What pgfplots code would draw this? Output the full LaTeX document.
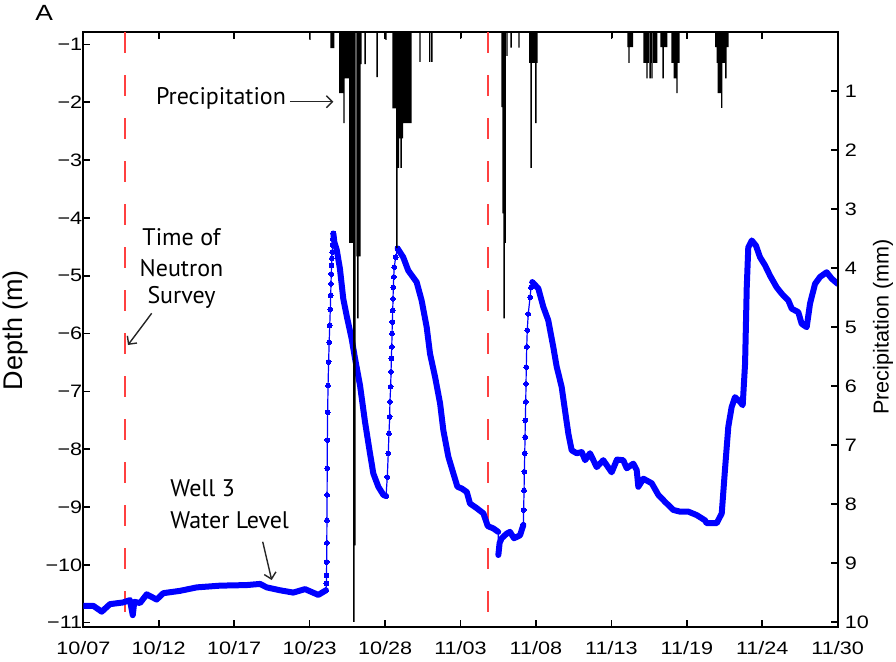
\documentclass[border=0pt]{standalone}
\usepackage{fontspec}
\setmainfont{Liberation Sans}
\newfontfamily\tickfont[FakeStretch=1.2]{Liberation Sans}
\newfontfamily\annfont{PT Sans}
\usepackage{pgfplots}
\pgfplotsset{compat=1.18}
\usetikzlibrary{arrows.meta}
\definecolor{dashred}{RGB}{255,64,64}
\definecolor{wblue}{RGB}{0,0,255}
\begin{document}
\begin{tikzpicture}
\path[use as bounding box] (-41.65pt,-17.15pt) rectangle (406.35pt,313.35pt);
\begin{axis}[
  at={(0pt,0pt)}, anchor=south west,
  scale only axis, width=377.2pt, height=297.2pt,
  xmin=0, xmax=54, ymin=-11.07, ymax=-0.79,
  xtick={0,5.4,10.8,16.2,21.6,27,32.4,37.8,43.2,48.6,54},
  xticklabels={10/07,10/12,10/17,10/23,10/28,11/03,11/08,11/13,11/19,11/24,11/30},
  ytick={-11,-10,-9,-8,-7,-6,-5,-4,-3,-2,-1},
  yticklabels={−11,−10,−9,−8,−7,−6,−5,−4,−3,−2,−1},
  ytick pos=left, xtick pos=both,
  tick align=inside, major tick length=3.5pt,
  axis line style={line width=0.9pt},
  tick style={line width=0.8pt, black},
  ticklabel style={font=\tickfont\fontsize{9}{11}\selectfont},
  xticklabel style={yshift=-4pt},
  yticklabel style={xshift=3pt},
]
\addplot[dashred, line width=1pt, dash pattern=on 10.5pt off 11pt] coordinates {(3,-0.79) (3,-11.07)};
\addplot[dashred, line width=1pt, dash pattern=on 10.5pt off 11pt] coordinates {(29,-0.79) (29,-11.07)};
% thick (dense) parts of the water level
\addplot[wblue, line width=3pt, line join=round, line cap=round] coordinates {
(0,-10.71)(0.72,-10.71)(1.32,-10.81)(1.91,-10.68)(2.86,-10.65)(3.34,-10.61)(3.54,-10.87)(3.65,-10.64)(4.06,-10.66)(4.54,-10.51)(5.25,-10.60)(5.73,-10.49)(6.92,-10.45)(8.12,-10.39)(9.79,-10.36)(11.70,-10.35)(12.65,-10.33)(13.13,-10.39)(14.08,-10.44)(15.03,-10.48)(15.87,-10.42)(16.82,-10.52)(17.37,-10.44)};
\addplot[wblue, line width=3pt, line join=round, line cap=round] coordinates {
(17.90,-4.27)(17.97,-4.42)(18.14,-4.55)(18.37,-4.88)(18.61,-5.40)(18.85,-5.69)(19.21,-6.09)(19.45,-6.43)(19.81,-6.9)(20.16,-7.52)(20.52,-8.07)(20.76,-8.42)(21.12,-8.65)(21.48,-8.79)(21.67,-8.81)};
\addplot[wblue, line width=3pt, line join=round, line cap=round] coordinates {
(22.50,-4.53)(22.90,-4.68)(23.26,-4.91)(23.86,-5.11)(24.22,-5.43)(24.58,-5.89)(24.82,-6.35)(25.18,-6.75)(25.54,-7.21)(25.77,-7.67)(26.13,-8.13)(26.49,-8.42)(26.78,-8.65)(27.09,-8.68)(27.45,-8.74)(27.68,-8.94)(28.16,-9.02)(28.64,-9.11)(28.95,-9.33)(29.35,-9.37)(29.70,-9.43)};
\addplot[wblue, line width=0.6pt] coordinates {(29.70,-9.43)(29.71,-9.83)};
\addplot[wblue, line width=3pt, line join=round, line cap=round] coordinates {
(29.71,-9.83)(29.80,-9.62)(29.95,-9.54)(30.31,-9.46)(30.54,-9.43)(30.83,-9.54)(31.26,-9.49)(31.50,-9.31)};
\addplot[wblue, line width=3pt, line join=round, line cap=round] coordinates {
(32.14,-5.11)(32.57,-5.22)(32.93,-5.54)(33.28,-5.77)(33.64,-6.23)(33.89,-6.58)(34.24,-6.92)(34.48,-7.33)(34.72,-7.73)(34.96,-8.02)(35.32,-8.07)(35.68,-8.05)(35.92,-8.19)(36.27,-8.07)(36.75,-8.31)(37.22,-8.19)(37.82,-8.40)(38.2,-8.18)(38.65,-8.19)(38.90,-8.33)(39.37,-8.25)(39.61,-8.36)(39.73,-8.65)(40.09,-8.51)(40.69,-8.59)(41.16,-8.79)(41.64,-8.91)(42.23,-9.05)(42.71,-9.08)(43.31,-9.08)(43.91,-9.14)(44.50,-9.23)(44.62,-9.28)(45.34,-9.28)(45.70,-9.11)(45.93,-8.36)(46.17,-7.61)(46.41,-7.27)(46.65,-7.10)(47.01,-7.18)(47.20,-7.24)(47.37,-6.52)(47.49,-5.20)(47.60,-4.51)(47.85,-4.39)(48.15,-4.48)(48.44,-4.68)(48.80,-4.82)(49.16,-5.00)(49.63,-5.20)(49.99,-5.31)(50.47,-5.43)(50.71,-5.57)(51.18,-5.63)(51.42,-5.83)(51.78,-5.89)(52.02,-5.48)(52.38,-5.14)(52.74,-5.02)(53.21,-4.94)(53.57,-5.05)(54,-5.14)};
% sparse rises: line with dots
\addplot[wblue, line width=0.6pt, mark=*, mark size=1.2pt, mark options={fill=wblue, draw=wblue, line width=0pt}] coordinates {
(17.37,-10.44)(17.40,-10.32)(17.41,-10.18)(17.42,-9.95)(17.43,-9.62)(17.44,-9.23)(17.45,-8.79)(17.46,-8.33)(17.47,-7.84)(17.49,-7.36)(17.52,-6.90)(17.56,-6.49)(17.60,-6.15)(17.64,-5.86)(17.68,-5.58)(17.71,-5.34)(17.73,-5.14)(17.75,-4.97)(17.77,-4.82)(17.79,-4.70)(17.82,-4.59)(17.84,-4.47)(17.86,-4.36)(17.90,-4.27)};
\addplot[wblue, line width=0.6pt, mark=*, mark size=1.2pt, mark options={fill=wblue, draw=wblue, line width=0pt}] coordinates {
(21.67,-8.81)(21.76,-8.48)(21.83,-8.07)(21.88,-7.73)(21.93,-7.44)(21.95,-7.18)(22.00,-6.92)(22.03,-6.66)(22.05,-6.43)(22.08,-6.23)(22.10,-6.00)(22.12,-5.80)(22.15,-5.60)(22.17,-5.40)(22.19,-5.20)(22.22,-5.02)(22.26,-4.85)(22.36,-4.68)(22.50,-4.53)};
\addplot[wblue, line width=0.6pt, mark=*, mark size=1.2pt, mark options={fill=wblue, draw=wblue, line width=0pt}] coordinates {
(31.50,-9.31)(31.52,-9.05)(31.55,-8.71)(31.57,-8.39)(31.60,-8.07)(31.62,-7.79)(31.64,-7.50)(31.67,-7.18)(31.69,-6.87)(31.71,-6.58)(31.74,-6.23)(31.78,-5.94)(31.85,-5.66)(31.98,-5.37)(32.05,-5.20)(32.14,-5.11)};
\end{axis}
\begin{axis}[
  at={(0pt,0pt)}, anchor=south west,
  scale only axis, width=377.2pt, height=297.2pt,
  xmin=0, xmax=54, ymin=0, ymax=10.08, y dir=reverse,
  axis x line=none, axis y line*=right,
  ytick={1,2,3,4,5,6,7,8,9,10},
  yticklabels={1,2,3,4,5,6,7,8,9,10},
  tick align=inside, major tick length=3.5pt,
  axis line style={line width=0.9pt},
  tick style={line width=0.8pt, black},
  ticklabel style={font=\tickfont\fontsize{9}{11}\selectfont},
]
\addplot[ybar, bar width=0.1, fill=black, draw=none] coordinates {
(16.23,0.13)
(17.73,0.27)(17.83,0.27)(17.93,0.27)
(18.37,1.03)(18.47,1.03)(18.57,1.03)(18.66,1.54)
(18.77,0.78)(18.87,0.78)(18.97,0.78)
(19.07,3.57)(19.17,3.57)(19.27,3.57)
(19.37,10.0)(19.45,8.7)
(19.6,3.8)(19.65,4.85)(19.7,3.8)(19.8,3.8)
(19.88,0.54)(20.17,0.54)(21.03,0.76)(21.67,0.13)
(22.17,1.29)(22.27,1.29)(22.37,1.29)(22.45,3.66)
(22.55,2.3)(22.65,1.8)(22.75,2.3)(22.85,1.8)
(22.95,1.54)(23.05,1.54)(23.15,1.54)(23.25,1.54)(23.35,1.54)(23.45,1.54)
(24.1,0.5)(24.8,0.5)(24.95,0.5)(27.04,0.1)
(29.97,1.27)(30.05,3.07)(30.12,4.85)(30.2,3.57)(30.33,0.4)(30.62,0.26)(31.19,0.26)
(31.97,0.52)(32.05,2.3)(32.07,0.52)(32.17,0.52)(32.27,0.52)(32.37,0.52)(32.4,1.54)(32.47,0.52)
(37.85,0.1)
(39.0,0.25)(39.06,0.52)(39.1,0.25)(39.2,0.25)(39.3,0.25)
(40.14,0.52)(40.24,0.52)(40.35,0.78)(40.44,0.52)(40.57,0.78)(40.64,0.52)(40.71,0.78)(40.84,0.52)(40.94,0.52)(41.04,0.52)
(41.35,0.25)(41.45,0.25)(41.5,0.78)(41.55,0.25)(41.65,0.25)(41.75,0.25)
(42.14,0.52)(42.24,0.52)(42.3,0.78)(42.4,0.78)(42.5,1.03)(42.54,0.52)(42.64,0.52)
(43.2,0.1)
(45.28,0.25)(45.38,0.52)(45.45,1.03)(45.55,1.03)(45.65,1.03)(45.7,1.28)(45.78,0.52)(45.88,0.52)(46.0,0.78)(46.08,0.25)(46.14,0.25)};
\end{axis}
% labels and annotations
\node[rotate=90, font=\fontsize{13.5}{16}\selectfont] at (-33.65pt,148.35pt) {Depth (m)};
\node[rotate=90, font=\fontsize{10.8}{13}\selectfont] at (399.85pt,149.85pt) {Precipitation (mm)};
\node[font=\tickfont\fontsize{11}{13}\selectfont] at (-19.5pt,306.95pt) {A};
\node[font=\annfont\fontsize{12}{14}\selectfont, anchor=base] at (68.85pt,261.1pt) {Precipitation};
\draw[black!85, line width=0.7pt, -{Straight Barb[length=3pt,width=6pt]}] (103.35pt,262.5pt) -- (125pt,262.5pt);
\node[font=\annfont\fontsize{12}{14}\selectfont, anchor=base] at (49.1pt,190.6pt) {Time of};
\node[font=\annfont\fontsize{12}{14}\selectfont, anchor=base] at (49.1pt,175.35pt) {Neutron};
\node[font=\annfont\fontsize{12}{14}\selectfont, anchor=base] at (49.1pt,161.85pt) {Survey};
\draw[black!85, line width=0.7pt, -{Straight Barb[length=3pt,width=6pt]}] (34.2pt,156.7pt) -- (22.35pt,140.85pt);
\node[font=\annfont\fontsize{12}{14}\selectfont, anchor=base west, inner sep=0pt] at (43.35pt,65.0pt) {Well 3};
\node[font=\annfont\fontsize{12}{14}\selectfont, anchor=base west, inner sep=0pt] at (43.35pt,49.35pt) {Water Level};
\draw[black!85, line width=0.7pt, -{Straight Barb[length=3pt,width=6pt]}] (89.7pt,42.5pt) -- (94.2pt,23.35pt);
\end{tikzpicture}
\end{document}
